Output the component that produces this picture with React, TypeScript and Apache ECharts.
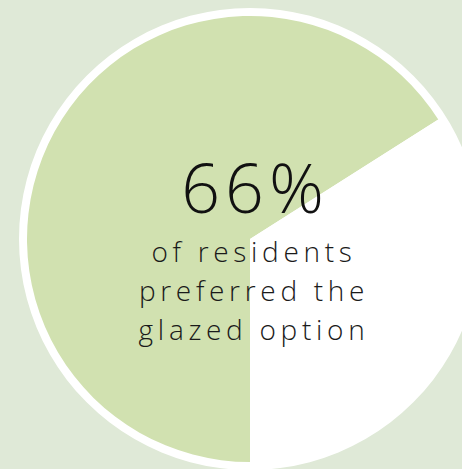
import React, { useEffect, useRef } from "react";
import * as echarts from "echarts";

const categories = ["Preferred glazed option", "Other"];
const values = [66, 34];
const headline = "66%";
const captionLines = ["of residents", "preferred the", "glazed option"];

export default function App() {
  const ref = useRef<HTMLDivElement>(null);
  useEffect(() => {
    document.body.style.margin = "0";
    const chart = echarts.init(ref.current!, null, { renderer: "svg" });
    const font = "'Open Sans', 'Noto Sans', sans-serif";
    chart.setOption({
      animation: false,
      backgroundColor: "#dfe9d7",
      series: [
        {
          type: "pie",
          center: [250, 239],
          radius: 231,
          silent: true,
          z: 1,
          label: { show: false },
          labelLine: { show: false },
          data: [{ value: 1, name: "ring", itemStyle: { color: "#ffffff" } }],
        },
        {
          type: "pie",
          center: [250, 239],
          radius: 223,
          startAngle: 270,
          clockwise: true,
          silent: true,
          z: 2,
          label: { show: false },
          labelLine: { show: false },
          data: categories.map((c, i) => ({
            name: c,
            value: values[i],
            itemStyle: { color: i === 0 ? "#d1e1b0" : "#ffffff" },
          })),
        },
      ],
      graphic: [
        {
          type: "text",
          x: 255,
          y: 186,
          z: 10,
          style: {
            text: headline,
            fontFamily: font,
            fontWeight: 300,
            fontSize: 68,
            fill: "#111111",
            align: "center",
            verticalAlign: "middle",
          },
        },
        ...captionLines.map((t, i) => ({
          type: "text",
          x: 254,
          y: 251 + i * 39,
          z: 10,
          style: {
            text: t,
            fontFamily: font,
            fontWeight: 300,
            fontSize: 28,
            fill: "#1a1a1a",
            align: "center",
            verticalAlign: "middle",
          },
        })),
      ],
    });
    const applySpacing = () => {
      const texts = ref.current?.querySelectorAll("text") || [];
      texts.forEach((t) => {
        const s = t.textContent || "";
        if (s === headline) t.setAttribute("letter-spacing", "5");
        else if (captionLines.includes(s)) t.setAttribute("letter-spacing", "4.7");
      });
    };
    applySpacing();
    chart.on("rendered", applySpacing);
    const id = window.setTimeout(applySpacing, 0);
    return () => {
      window.clearTimeout(id);
      chart.dispose();
    };
  }, []);
  return <div ref={ref} style={{ width: 462, height: 469 }} />;
}
